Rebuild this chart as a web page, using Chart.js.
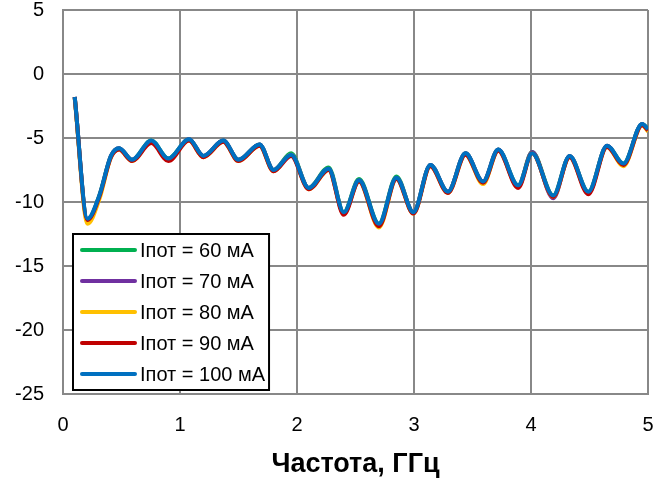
<!DOCTYPE html>
<html>
<head>
<meta charset="utf-8">
<script src="https://cdn.jsdelivr.net/npm/chart.js@4"></script>
<style>
  html, body { margin: 0; padding: 0; background: #fff; }
  #wrap { width: 664px; height: 481px; }
</style>
</head>
<body>
<div id="wrap"><canvas id="chart" width="664" height="481"></canvas></div>
<script>
const freq = [0.1, 0.21, 0.31, 0.41, 0.48, 0.59, 0.755, 0.9, 1.077, 1.2, 1.37, 1.5, 1.68, 1.8, 1.95, 2.1, 2.27, 2.4, 2.53, 2.7, 2.85, 2.995, 3.14, 3.29, 3.44, 3.59, 3.72, 3.89, 4.01, 4.19, 4.33, 4.49, 4.65, 4.79, 4.95, 5.0];

const s60 = [-1.8, -11.4, -9.5, -6.4, -5.8, -6.7, -5.2, -6.6, -5.1, -6.4, -5.2, -6.7, -5.5, -7.5, -6.2, -8.9, -7.3, -10.8, -8.2, -11.7, -8.0, -10.8, -7.1, -9.2, -6.2, -8.4, -5.9, -8.7, -6.1, -9.5, -6.4, -9.2, -5.6, -7.0, -3.9, -4.3];
const s70 = [-1.8, -11.5, -9.6, -6.4, -5.8, -6.7, -5.3, -6.7, -5.1, -6.4, -5.2, -6.7, -5.5, -7.5, -6.3, -8.9, -7.4, -10.9, -8.3, -11.8, -8.1, -10.8, -7.1, -9.2, -6.2, -8.4, -5.9, -8.8, -6.1, -9.7, -6.4, -9.3, -5.6, -7.1, -3.9, -4.4];
const s80 = [-1.9, -11.7, -9.8, -6.5, -5.9, -6.8, -5.3, -6.7, -5.2, -6.5, -5.3, -6.8, -5.6, -7.6, -6.3, -9.0, -7.5, -10.9, -8.4, -12.0, -8.2, -10.9, -7.2, -9.3, -6.3, -8.6, -6.0, -8.8, -6.2, -9.6, -6.5, -9.3, -5.7, -7.2, -4.0, -4.5];
const s90 = [-1.8, -11.4, -9.6, -6.5, -5.9, -6.8, -5.4, -6.8, -5.2, -6.5, -5.3, -6.8, -5.6, -7.6, -6.4, -9.0, -7.5, -11.0, -8.4, -11.9, -8.2, -10.9, -7.2, -9.3, -6.3, -8.5, -6.0, -8.9, -6.2, -9.6, -6.5, -9.4, -5.7, -7.1, -4.0, -4.4];
const s100 = [-1.8, -11.3, -9.5, -6.4, -5.8, -6.7, -5.2, -6.6, -5.1, -6.4, -5.2, -6.7, -5.5, -7.5, -6.3, -8.9, -7.4, -10.8, -8.3, -11.7, -8.1, -10.8, -7.1, -9.2, -6.2, -8.4, -5.9, -8.7, -6.2, -9.5, -6.4, -9.2, -5.6, -7.0, -3.9, -4.3];

const seriesNames = ['Iпот = 60 мА', 'Iпот = 70 мА', 'Iпот = 80 мА', 'Iпот = 90 мА', 'Iпот = 100 мА'];
const seriesColors = ['#00b050', '#7030a0', '#ffc000', '#c00000', '#0070c0'];
const seriesValues = [s60, s70, s80, s90, s100];

const xTitle = 'Частота, ГГц';
const fontFamily = "'Liberation Sans Narrow', 'Liberation Sans', Arial, sans-serif";

const insideLegend = {
  id: 'insideLegend',
  afterDatasetsDraw(chart) {
    const ctx = chart.ctx;
    const area = chart.chartArea;
    const rowH = 31;
    const boxL = area.left + 10;
    const boxH = rowH * chart.data.datasets.length + 1;
    const boxT = area.bottom - 4 - boxH;
    ctx.save();
    ctx.font = '20px ' + fontFamily;
    let maxW = 0;
    chart.data.datasets.forEach(ds => { maxW = Math.max(maxW, ctx.measureText(ds.label).width); });
    const boxW = 9 + 53 + 5 + maxW + 4;
    ctx.fillStyle = '#fff';
    ctx.fillRect(boxL, boxT, boxW, boxH);
    ctx.lineWidth = 2;
    ctx.strokeStyle = '#000';
    ctx.strokeRect(boxL, boxT, boxW, boxH);
    chart.data.datasets.forEach((ds, i) => {
      const cy = boxT + 16 + i * rowH;
      ctx.beginPath();
      ctx.strokeStyle = ds.borderColor;
      ctx.lineWidth = 4;
      ctx.lineCap = 'round';
      ctx.moveTo(boxL + 9, cy);
      ctx.lineTo(boxL + 62, cy);
      ctx.stroke();
      ctx.fillStyle = '#000';
      ctx.textBaseline = 'middle';
      ctx.textAlign = 'left';
      ctx.fillText(ds.label, boxL + 67, cy + 1);
    });
    ctx.restore();
  }
};

new Chart(document.getElementById('chart'), {
  type: 'line',
  data: {
    datasets: seriesValues.map((vals, i) => ({
      label: seriesNames[i],
      data: freq.map((f, j) => ({ x: f, y: vals[j] })),
      borderColor: seriesColors[i],
      backgroundColor: seriesColors[i],
      borderWidth: 4,
      pointRadius: 0,
      fill: false,
      cubicInterpolationMode: 'monotone',
      order: 5 - i
    }))
  },
  options: {
    responsive: false,
    animation: false,
    layout: { padding: { left: 0, right: 16, top: 10, bottom: 0 } },
    plugins: { legend: { display: false }, tooltip: { enabled: false } },
    scales: {
      x: {
        type: 'linear',
        min: 0,
        max: 5,
        ticks: { stepSize: 1, color: '#000', font: { family: fontFamily, size: 20 }, padding: 19 },
        grid: { color: '#888', lineWidth: 2, drawTicks: false },
        border: { color: '#888', width: 2 },
        title: { display: true, text: xTitle, color: '#000', font: { family: fontFamily, size: 27, weight: 'bold' }, padding: { top: 0, bottom: 0 } },
        afterFit(scale) { scale.height = 87; scale.paddingLeft = 0; scale.paddingRight = 0; }
      },
      y: {
        min: -25,
        max: 5,
        ticks: { stepSize: 5, color: '#000', font: { family: fontFamily, size: 20 }, padding: 19 },
        grid: { color: '#888', lineWidth: 2, drawTicks: false },
        border: { color: '#888', width: 2 },
        afterFit(scale) { scale.width = 63; scale.paddingTop = 0; scale.paddingBottom = 0; }
      }
    }
  },
  plugins: [insideLegend]
});
</script>
</body>
</html>
